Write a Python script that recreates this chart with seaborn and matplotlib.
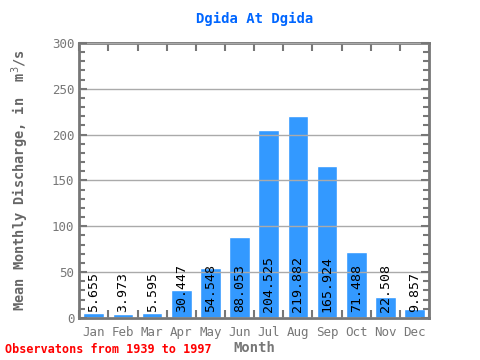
import matplotlib
matplotlib.use("Agg")
import matplotlib.pyplot as plt
import seaborn as sns
import pandas as pd
from matplotlib.ticker import MultipleLocator, FixedLocator

months = ["Jan", "Feb", "Mar", "Apr", "May", "Jun",
          "Jul", "Aug", "Sep", "Oct", "Nov", "Dec"]
discharge = [5.655, 3.973, 5.595, 30.447, 54.548, 88.053,
             204.525, 219.882, 165.924, 71.488, 22.508, 9.857]
value_labels = ["5.655", "3.973", "5.595", "30.447", "54.548", "88.053",
                "204.525", "219.882", "165.924", "71.488", "22.508", "9.857"]

df = pd.DataFrame({"Month": months, "Discharge": discharge})

sns.set_style("white")
plt.rcParams['font.family'] = ['DejaVu Sans Mono']

fig = plt.figure(figsize=(4.8, 3.6), dpi=100)
ax = fig.add_axes([0.165, 0.117, 0.729, 0.764])

sns.barplot(data=df, x="Month", y="Discharge", color="#3399ff",
            saturation=1, width=0.71, ax=ax)

ax.set_xlim(-0.5, 11.5)
ax.set_ylim(0, 300)
ax.yaxis.set_major_locator(MultipleLocator(50))
ax.yaxis.set_minor_locator(MultipleLocator(10))
ax.xaxis.set_minor_locator(FixedLocator([i + 0.5 for i in range(-1, 12)]))

ax.grid(axis="y", color="#aaaaaa", linewidth=1)
ax.set_axisbelow(False)

gray = "#777777"
for s in ax.spines.values():
    s.set_color(gray)
    s.set_linewidth(2)

ax.tick_params(axis="y", which="both", direction="in", left=True, right=True,
               color=gray, width=1.5, labelsize=9, labelcolor=gray)
ax.tick_params(axis="y", which="major", length=6)
ax.tick_params(axis="y", which="minor", length=4)
ax.tick_params(axis="x", which="major", length=0, labelsize=9, labelcolor=gray, pad=6)
ax.tick_params(axis="x", which="minor", direction="in", top=True, bottom=True,
               length=6, width=1.5, color=gray)

for i, lbl in enumerate(value_labels):
    ax.text(i, 6, lbl, rotation=90, ha="center", va="bottom",
            fontsize=9.5, color="black", zorder=5)

ax.set_title("Dgida At Dgida", color="#0066ff", fontsize=10,
             fontweight="bold", pad=14)
ax.set_xlabel("Month", fontsize=10, color=gray, fontweight="bold", labelpad=1)
ax.set_ylabel("Mean Monthly Discharge, in  m$^{3}$/s", fontsize=9.8,
              color="#666666", fontweight="bold", labelpad=15)

fig.text(0.01, 0.02, "Observatons from 1939 to 1997", color="red",
         fontsize=8.5, fontweight="bold")

fig.savefig("out.png", dpi=100)
